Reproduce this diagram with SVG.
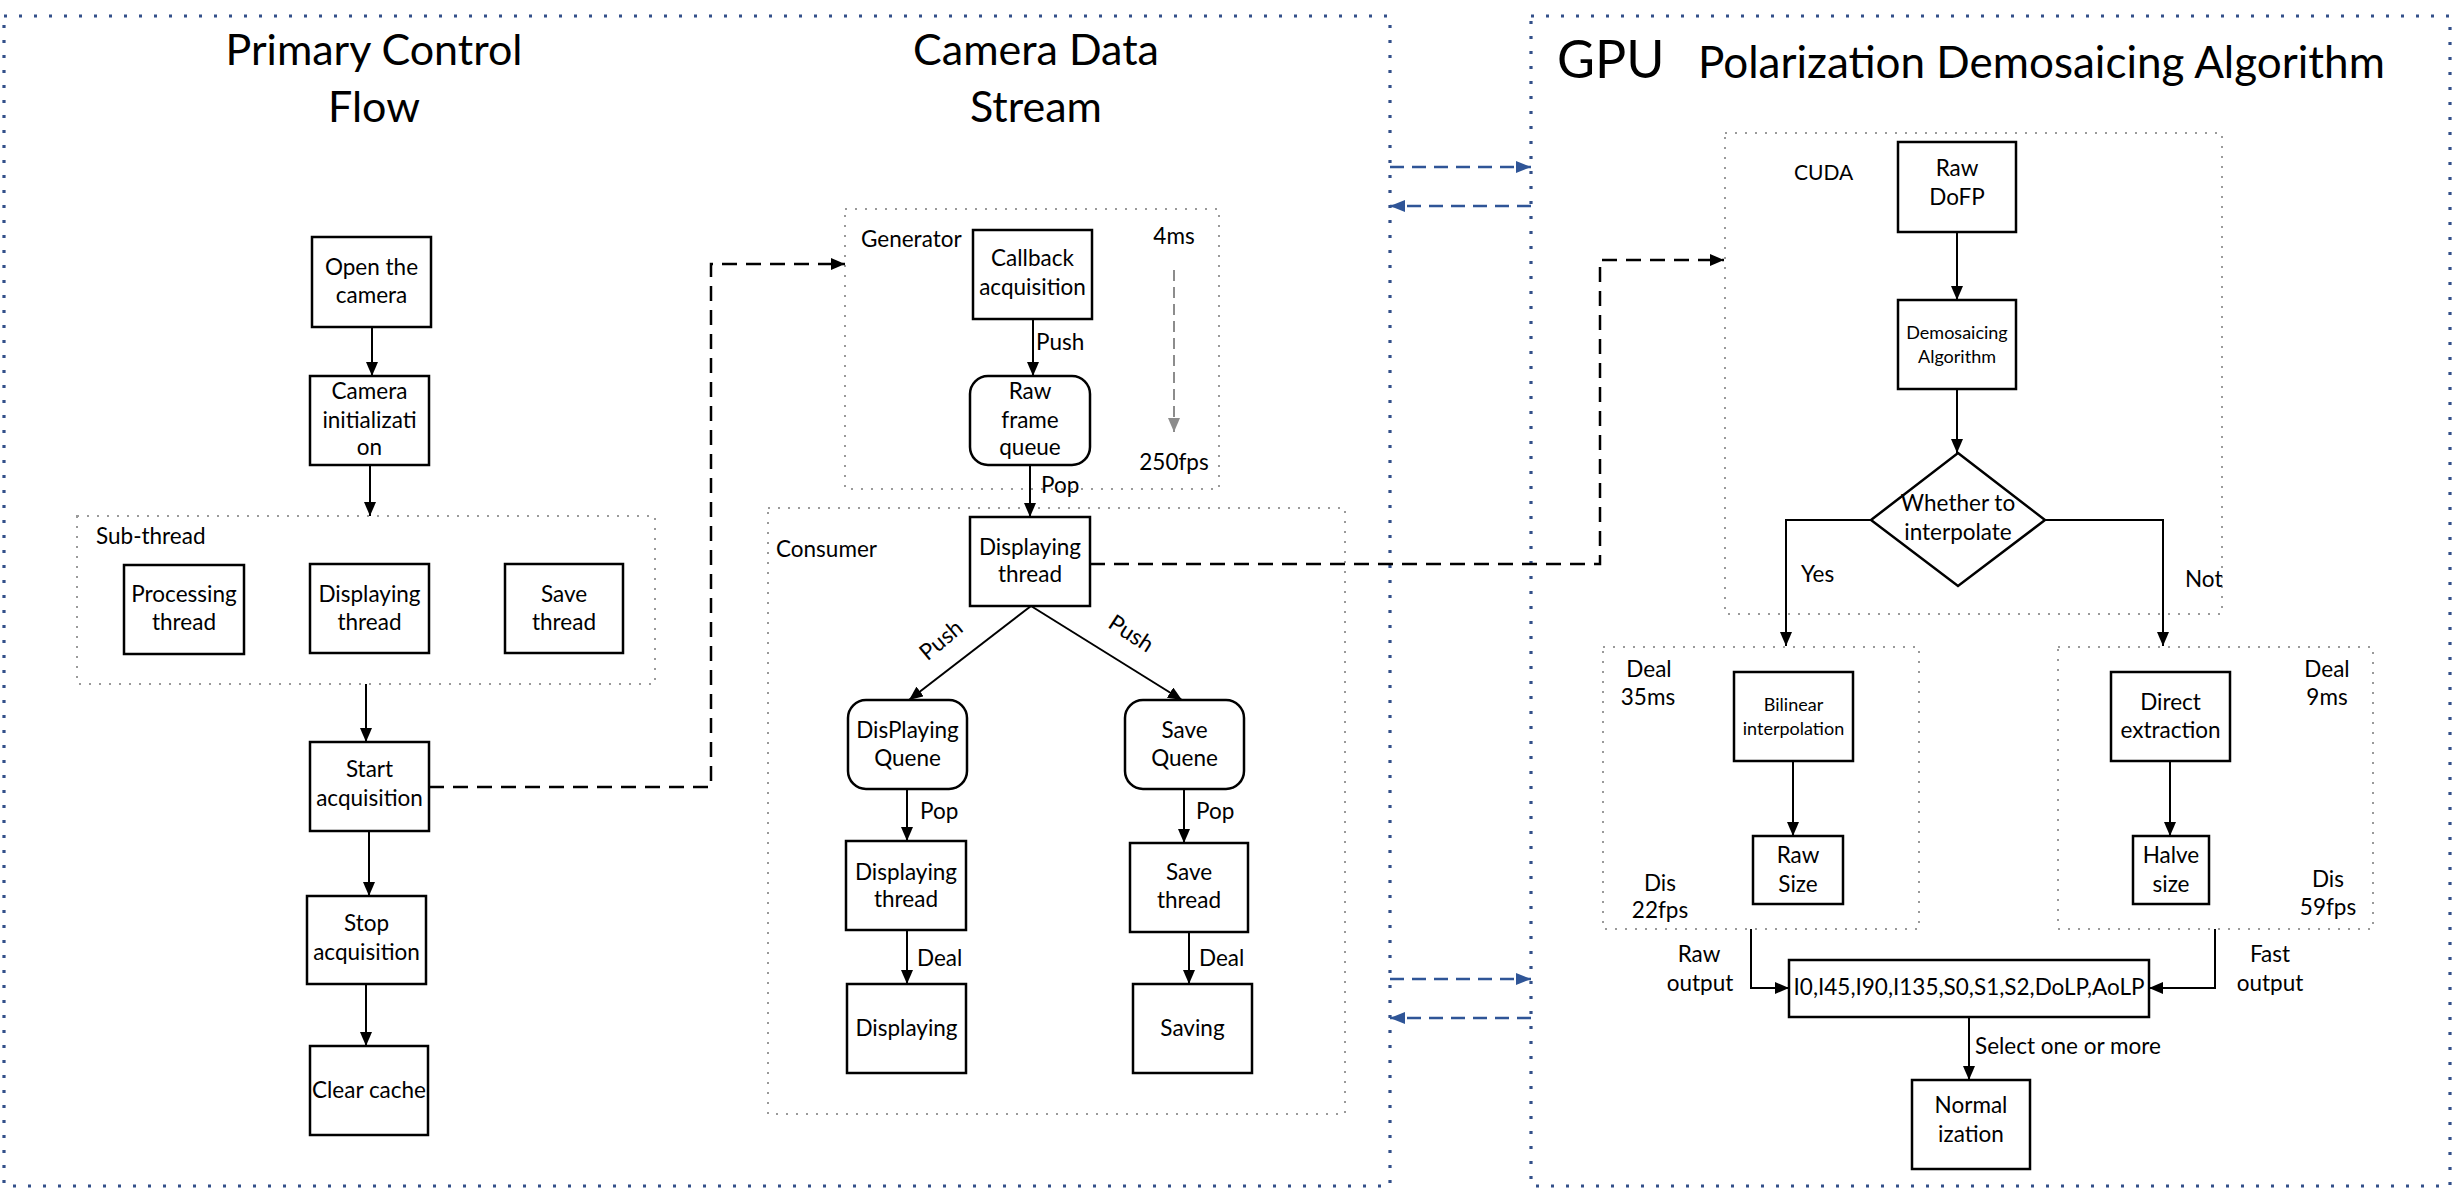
<svg xmlns="http://www.w3.org/2000/svg" width="2455" height="1189" viewBox="0 0 2455 1189">
  <defs>
    <style>
      .panel { fill: none; stroke: #33508a; stroke-width: 3.2; stroke-dasharray: 3 12; stroke-linecap: butt; }
      .grp { fill: none; stroke: #9a9a9a; stroke-width: 2; stroke-dasharray: 2 8; }
      .box { fill: #ffffff; stroke: #000000; stroke-width: 2.5; }
      .line { fill: none; stroke: #000000; stroke-width: 2; }
      .dash { fill: none; stroke: #000000; stroke-width: 2.5; stroke-dasharray: 15 9; }
      .gdash { fill: none; stroke: #8c8c8c; stroke-width: 2; stroke-dasharray: 11 6; }
      .bdash { fill: none; stroke: #2f5597; stroke-width: 2.5; stroke-dasharray: 14 8; }
      text { font-family: Lato, "Open Sans", "Liberation Sans", sans-serif; fill: #000000; }
      .t { font-size: 22.5px; text-anchor: middle; }
      .s { font-size: 18px; text-anchor: middle; }
      .l { font-size: 22.5px; text-anchor: start; }
      .title { font-size: 43px; text-anchor: middle; }
    </style>
    <marker id="arr" markerUnits="userSpaceOnUse" markerWidth="14" markerHeight="12" refX="14" refY="6" orient="auto">
      <path d="M0,0 L14,6 L0,12 Z" fill="#000000"/>
    </marker>
    <marker id="arrGray" markerUnits="userSpaceOnUse" markerWidth="14" markerHeight="12" refX="14" refY="6" orient="auto">
      <path d="M0,0 L14,6 L0,12 Z" fill="#8c8c8c"/>
    </marker>
    <marker id="arrBlue" markerUnits="userSpaceOnUse" markerWidth="15" markerHeight="12" refX="15" refY="6" orient="auto">
      <path d="M0,0 L15,6 L0,12 Z" fill="#2f5597"/>
    </marker>
  </defs>

  <rect width="2455" height="1189" fill="#ffffff"/>

  <!-- outer panels -->
  <g id="panel-host">
    <rect class="panel" x="4" y="16" width="1386" height="1170"/>
    <text class="title" x="374" y="65">Primary Control</text>
    <text class="title" x="374" y="122">Flow</text>
    <text class="title" x="1036" y="65">Camera Data</text>
    <text class="title" x="1036" y="122">Stream</text>
  </g>
  <g id="panel-gpu">
    <rect class="panel" x="1531" y="16" width="919" height="1170"/>
    <text x="1557" y="78" style="font-size:52px">GPU</text>
    <text x="1698" y="78" style="font-size:44px">Polarization Demosaicing Algorithm</text>
  </g>

  <!-- group frames -->
  <g id="sub-thread">
    <rect class="grp" x="77" y="516" width="578" height="168"/>
    <text class="l" x="96" y="544">Sub-thread</text>
  </g>
  <g id="generator">
    <rect class="grp" x="845" y="209" width="374" height="280"/>
    <text class="l" x="861" y="247">Generator</text>
    <text class="t" x="1174" y="244">4ms</text>
    <text class="t" x="1174" y="470">250fps</text>
  </g>
  <g id="consumer">
    <rect class="grp" x="768" y="508" width="577" height="606"/>
    <text class="l" x="776" y="557">Consumer</text>
  </g>
  <g id="cuda">
    <rect class="grp" x="1725" y="133" width="497" height="481"/>
    <text x="1794" y="180" style="font-size:21px">CUDA</text>
  </g>
  <g id="interp-branch">
    <rect class="grp" x="1603" y="647" width="316" height="282"/>
    <text class="t" x="1649" y="677">Deal</text>
    <text class="t" x="1648" y="705">35ms</text>
    <text class="t" x="1660" y="891">Dis</text>
    <text class="t" x="1660" y="918">22fps</text>
  </g>
  <g id="direct-branch">
    <rect class="grp" x="2058" y="647" width="315" height="282"/>
    <text class="t" x="2327" y="677">Deal</text>
    <text class="t" x="2327" y="705">9ms</text>
    <text class="t" x="2328" y="887">Dis</text>
    <text class="t" x="2328" y="915">59fps</text>
  </g>

  <!-- connectors -->
  <g id="connectors">
    <line class="line" x1="372" y1="327" x2="372" y2="376" marker-end="url(#arr)"/>
    <line class="line" x1="370" y1="465" x2="370" y2="516" marker-end="url(#arr)"/>
    <line class="line" x1="366" y1="684" x2="366" y2="742" marker-end="url(#arr)"/>
    <line class="line" x1="369" y1="831" x2="369" y2="896" marker-end="url(#arr)"/>
    <line class="line" x1="366" y1="984" x2="366" y2="1046" marker-end="url(#arr)"/>
    <path class="dash" d="M429,787 H711 V264 H845" marker-end="url(#arr)"/>

    <line class="line" x1="1033" y1="319" x2="1033" y2="376" marker-end="url(#arr)"/>
    <text class="l" x="1036" y="350">Push</text>
    <line class="gdash" x1="1174" y1="270" x2="1174" y2="432" marker-end="url(#arrGray)"/>
    <line class="line" x1="1030" y1="465" x2="1030" y2="517" marker-end="url(#arr)"/>
    <text class="l" x="1041" y="493">Pop</text>
    <line class="line" x1="1031" y1="606" x2="909" y2="700" marker-end="url(#arr)"/>
    <line class="line" x1="1031" y1="606" x2="1182" y2="700" marker-end="url(#arr)"/>
    <text class="t" transform="translate(946,646) rotate(-40)">Push</text>
    <text class="t" transform="translate(1127,640) rotate(33)">Push</text>
    <line class="line" x1="907" y1="789" x2="907" y2="841" marker-end="url(#arr)"/>
    <text class="l" x="920" y="819">Pop</text>
    <line class="line" x1="1184" y1="789" x2="1184" y2="843" marker-end="url(#arr)"/>
    <text class="l" x="1196" y="819">Pop</text>
    <line class="line" x1="907" y1="930" x2="907" y2="984" marker-end="url(#arr)"/>
    <text class="l" x="917" y="966">Deal</text>
    <line class="line" x1="1189" y1="932" x2="1189" y2="984" marker-end="url(#arr)"/>
    <text class="l" x="1199" y="966">Deal</text>
    <path class="dash" d="M1090,564 H1600 V260 H1724" marker-end="url(#arr)"/>

    <line class="bdash" x1="1390" y1="167" x2="1531" y2="167" marker-end="url(#arrBlue)"/>
    <line class="bdash" x1="1531" y1="206" x2="1390" y2="206" marker-end="url(#arrBlue)"/>
    <line class="bdash" x1="1390" y1="979" x2="1531" y2="979" marker-end="url(#arrBlue)"/>
    <line class="bdash" x1="1531" y1="1018" x2="1390" y2="1018" marker-end="url(#arrBlue)"/>

    <line class="line" x1="1957" y1="232" x2="1957" y2="300" marker-end="url(#arr)"/>
    <line class="line" x1="1957" y1="389" x2="1957" y2="453" marker-end="url(#arr)"/>
    <path class="line" d="M1871,520 H1786 V646" marker-end="url(#arr)"/>
    <text class="l" x="1801" y="582">Yes</text>
    <path class="line" d="M2045,520 H2163 V646" marker-end="url(#arr)"/>
    <text class="l" x="2185" y="587">Not</text>
    <line class="line" x1="1793" y1="761" x2="1793" y2="836" marker-end="url(#arr)"/>
    <line class="line" x1="2170" y1="761" x2="2170" y2="836" marker-end="url(#arr)"/>
    <path class="line" d="M1751,929 V988 H1789" marker-end="url(#arr)"/>
    <text class="t" x="1699" y="962">Raw</text>
    <text class="t" x="1700" y="991">output</text>
    <path class="line" d="M2215,929 V988 H2149" marker-end="url(#arr)"/>
    <text class="t" x="2270" y="962">Fast</text>
    <text class="t" x="2270" y="991">output</text>
    <line class="line" x1="1969" y1="1017" x2="1969" y2="1080" marker-end="url(#arr)"/>
    <text class="l" x="1975" y="1054">Select one or more</text>
  </g>

  <!-- primary control flow -->
  <g id="open-camera">
    <rect class="box" x="312" y="237" width="119" height="90"/>
    <text class="t" x="371.5" y="275">Open the</text>
    <text class="t" x="371.5" y="303">camera</text>
  </g>
  <g id="camera-init">
    <rect class="box" x="310" y="376" width="119" height="89"/>
    <text class="t" x="369.5" y="399">Camera</text>
    <text class="t" x="369.5" y="428">initializati</text>
    <text class="t" x="369.5" y="455">on</text>
  </g>
  <g id="processing-thread">
    <rect class="box" x="124" y="565" width="120" height="89"/>
    <text class="t" x="184" y="602">Processing</text>
    <text class="t" x="184" y="630">thread</text>
  </g>
  <g id="displaying-thread-sub">
    <rect class="box" x="310" y="564" width="119" height="89"/>
    <text class="t" x="369.5" y="602">Displaying</text>
    <text class="t" x="369.5" y="630">thread</text>
  </g>
  <g id="save-thread-sub">
    <rect class="box" x="505" y="564" width="118" height="89"/>
    <text class="t" x="564" y="602">Save</text>
    <text class="t" x="564" y="630">thread</text>
  </g>
  <g id="start-acquisition">
    <rect class="box" x="310" y="742" width="119" height="89"/>
    <text class="t" x="369.5" y="777">Start</text>
    <text class="t" x="369.5" y="806">acquisition</text>
  </g>
  <g id="stop-acquisition">
    <rect class="box" x="307" y="896" width="119" height="88"/>
    <text class="t" x="366.5" y="931">Stop</text>
    <text class="t" x="366.5" y="960">acquisition</text>
  </g>
  <g id="clear-cache">
    <rect class="box" x="310" y="1046" width="118" height="89"/>
    <text class="t" x="369" y="1098">Clear cache</text>
  </g>

  <!-- camera data stream -->
  <g id="callback-acquisition">
    <rect class="box" x="973" y="230" width="119" height="89"/>
    <text class="t" x="1032.5" y="266">Callback</text>
    <text class="t" x="1032.5" y="295">acquisition</text>
  </g>
  <g id="raw-frame-queue">
    <rect class="box" x="970" y="376" width="120" height="89" rx="18"/>
    <text class="t" x="1030" y="399">Raw</text>
    <text class="t" x="1030" y="428">frame</text>
    <text class="t" x="1030" y="455">queue</text>
  </g>
  <g id="displaying-thread">
    <rect class="box" x="970" y="517" width="120" height="89"/>
    <text class="t" x="1030" y="555">Displaying</text>
    <text class="t" x="1030" y="582">thread</text>
  </g>
  <g id="displaying-queue">
    <rect class="box" x="848" y="700" width="119" height="89" rx="18"/>
    <text class="t" x="907.5" y="738">DisPlaying</text>
    <text class="t" x="907.5" y="766">Quene</text>
  </g>
  <g id="save-queue">
    <rect class="box" x="1125" y="700" width="119" height="89" rx="18"/>
    <text class="t" x="1184.5" y="738">Save</text>
    <text class="t" x="1184.5" y="766">Quene</text>
  </g>
  <g id="displaying-thread-2">
    <rect class="box" x="846" y="841" width="120" height="89"/>
    <text class="t" x="906" y="880">Displaying</text>
    <text class="t" x="906" y="907">thread</text>
  </g>
  <g id="save-thread">
    <rect class="box" x="1130" y="843" width="118" height="89"/>
    <text class="t" x="1189" y="880">Save</text>
    <text class="t" x="1189" y="908">thread</text>
  </g>
  <g id="displaying">
    <rect class="box" x="847" y="984" width="119" height="89"/>
    <text class="t" x="906.5" y="1036">Displaying</text>
  </g>
  <g id="saving">
    <rect class="box" x="1133" y="984" width="119" height="89"/>
    <text class="t" x="1192.5" y="1036">Saving</text>
  </g>

  <!-- GPU demosaicing -->
  <g id="raw-dofp">
    <rect class="box" x="1898" y="142" width="118" height="90"/>
    <text class="t" x="1957" y="176">Raw</text>
    <text class="t" x="1957" y="205">DoFP</text>
  </g>
  <g id="demosaicing-algorithm">
    <rect class="box" x="1898" y="300" width="118" height="89"/>
    <text class="s" x="1957" y="339">Demosaicing</text>
    <text class="s" x="1957" y="363">Algorithm</text>
  </g>
  <g id="interpolate-decision">
    <polygon class="box" points="1958,453 2045,520 1958,586 1871,520"/>
    <text class="t" x="1958" y="511">Whether to</text>
    <text class="t" x="1958" y="540">interpolate</text>
  </g>
  <g id="bilinear-interpolation">
    <rect class="box" x="1734" y="672" width="119" height="89"/>
    <text class="s" x="1793.5" y="711">Bilinear</text>
    <text class="s" x="1793.5" y="735">interpolation</text>
  </g>
  <g id="raw-size">
    <rect class="box" x="1753" y="836" width="90" height="68"/>
    <text class="t" x="1798" y="863">Raw</text>
    <text class="t" x="1798" y="892">Size</text>
  </g>
  <g id="direct-extraction">
    <rect class="box" x="2111" y="672" width="119" height="89"/>
    <text class="t" x="2170.5" y="710">Direct</text>
    <text class="t" x="2170.5" y="738">extraction</text>
  </g>
  <g id="halve-size">
    <rect class="box" x="2133" y="836" width="76" height="68"/>
    <text class="t" x="2171" y="863">Halve</text>
    <text class="t" x="2171" y="892">size</text>
  </g>
  <g id="outputs">
    <rect class="box" x="1789" y="960" width="360" height="57"/>
    <text class="t" x="1969" y="995">I0,I45,I90,I135,S0,S1,S2,DoLP,AoLP</text>
  </g>
  <g id="normalization">
    <rect class="box" x="1912" y="1080" width="118" height="89"/>
    <text class="t" x="1971" y="1113">Normal</text>
    <text class="t" x="1971" y="1142">ization</text>
  </g>
</svg>
